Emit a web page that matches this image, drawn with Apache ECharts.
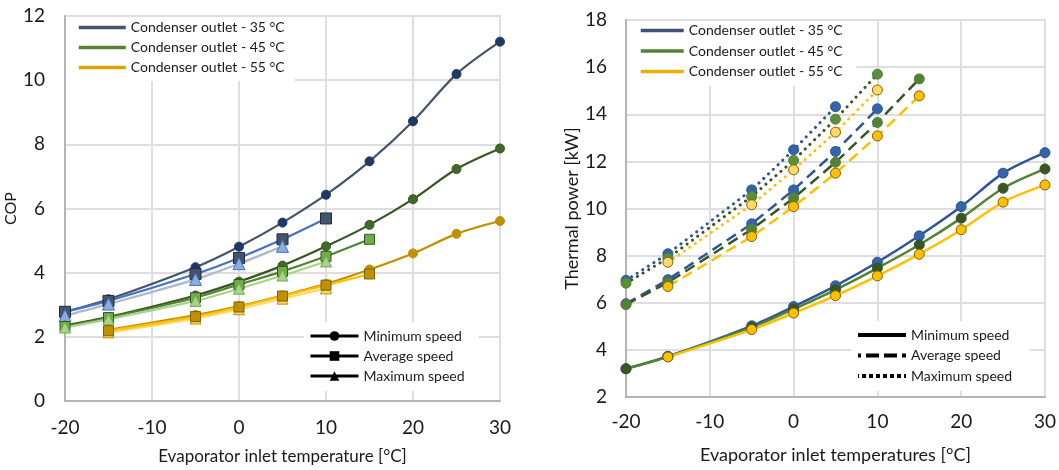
<!DOCTYPE html>
<html>
<head>
<meta charset="utf-8">
<script src="https://cdn.jsdelivr.net/npm/echarts@6/dist/echarts.min.js"></script>
<style>
html,body{margin:0;padding:0;background:#fff;}
#chart{width:1059px;height:470px;}
</style>
</head>
<body>
<div id="chart"></div>
<script>
// ---------- DATA ----------
const xTicks = [-20, -10, 0, 10, 20, 30];

// Left chart: COP
const cop35minX = [-20, -15, -5, 0, 5, 10, 15, 20, 25, 30];
const cop35min  = [2.78, 3.17, 4.17, 4.81, 5.56, 6.43, 7.47, 8.72, 10.19, 11.2];
const cop35avgX = [-20, -15, -5, 0, 5, 10];
const cop35avg  = [2.78, 3.12, 3.96, 4.46, 5.04, 5.69];
const cop35maxX = [-20, -15, -5, 0, 5];
const cop35max  = [2.66, 3.02, 3.79, 4.28, 4.82];
const cop45minX = [-20, -15, -5, 0, 5, 10, 15, 20, 25, 30];
const cop45min  = [2.35, 2.62, 3.29, 3.72, 4.22, 4.82, 5.49, 6.29, 7.23, 7.87];
const cop45avgX = [-20, -15, -5, 0, 5, 10, 15];
const cop45avg  = [2.32, 2.60, 3.22, 3.63, 4.04, 4.51, 5.04];
const cop45maxX = [-20, -15, -5, 0, 5, 10];
const cop45max  = [2.29, 2.55, 3.12, 3.50, 3.91, 4.35];
const cop55minX = [-15, -5, 0, 5, 10, 15, 20, 25, 30];
const cop55min  = [2.22, 2.68, 2.96, 3.29, 3.65, 4.10, 4.60, 5.21, 5.61];
const cop55avgX = [-15, -5, 0, 5, 10, 15];
const cop55avg  = [2.19, 2.63, 2.93, 3.27, 3.61, 3.96];
const cop55maxX = [-15, -5, 0, 5, 10];
const cop55max  = [2.14, 2.57, 2.86, 3.19, 3.51];

// Right chart: thermal power [kW]
const pw35minX = [-20, -15, -5, 0, 5, 10, 15, 20, 25, 30];
const pw35min  = [3.2, 3.72, 5.02, 5.84, 6.72, 7.72, 8.84, 10.08, 11.5, 12.37];
const pw45minX = [-20, -15, -5, 0, 5, 10, 15, 20, 25, 30];
const pw45min  = [3.2, 3.72, 4.95, 5.73, 6.55, 7.47, 8.46, 9.59, 10.86, 11.68];
const pw55minX = [-15, -5, 0, 5, 10, 15, 20, 25, 30];
const pw55min  = [3.7, 4.86, 5.56, 6.3, 7.14, 8.06, 9.1, 10.27, 11.0];
const pw35avgX = [-20, -15, -5, 0, 5, 10];
const pw35avg  = [5.96, 6.98, 9.35, 10.79, 12.42, 14.23];
const pw45avgX = [-20, -15, -5, 0, 5, 10, 15];
const pw45avg  = [5.92, 6.86, 9.12, 10.44, 11.96, 13.65, 15.5];
const pw55avgX = [-15, -5, 0, 5, 10, 15];
const pw55avg  = [6.69, 8.81, 10.08, 11.5, 13.08, 14.78];
const pw35maxX = [-20, -15, -5, 0, 5];
const pw35max  = [6.95, 8.08, 10.79, 12.49, 14.32];
const pw45maxX = [-20, -15, -5, 0, 5, 10];
const pw45max  = [6.83, 7.89, 10.51, 12.04, 13.79, 15.7];
const pw55maxX = [-15, -5, 0, 5, 10];
const pw55max  = [7.72, 10.16, 11.64, 13.24, 15.03];

const condLabels  = ['Condenser outlet - 35 °C', 'Condenser outlet - 45 °C', 'Condenser outlet - 55 °C'];
const speedLabels = ['Minimum speed', 'Average speed', 'Maximum speed'];
const leftYTitle  = 'COP';
const rightYTitle = 'Thermal power [kW]';
const leftXTitle  = 'Evaporator inlet temperature [°C]';
const rightXTitle = 'Evaporator inlet temperatures [°C]';

// ---------- BUILD ----------
const FONT = 'Lato';
const TXT = '#1a1a1a';
const zip = (xs, ys) => xs.map((x, i) => [x, ys[i]]);

function line(grid, xs, ys, lineColor, symbol, fill, border, opts) {
  opts = opts || {};
  return {
    type: 'line',
    xAxisIndex: grid, yAxisIndex: grid,
    data: zip(xs, ys),
    smooth: opts.smooth === undefined ? 0.3 : opts.smooth,
    symbol: symbol,
    symbolSize: opts.size || 9,
    lineStyle: { color: lineColor, width: opts.width || 2.2, type: opts.dash || 'solid', cap: opts.cap || 'butt' },
    itemStyle: { color: fill, borderColor: border, borderWidth: 1 },
    emphasis: { disabled: true },
    silent: true,
    animation: false
  };
}
// legend-only entries (no data); symbol hidden with a transparent fill when not wanted
function dummy(name, color, symbol, lstyle) {
  const hide = symbol === 'none';
  return {
    type: 'line', name: name, xAxisIndex: 0, yAxisIndex: 0, data: [],
    symbol: hide ? 'circle' : symbol, symbolSize: 9,
    lineStyle: Object.assign({ color: color }, lstyle),
    itemStyle: hide ? { color: 'rgba(0,0,0,0)', borderWidth: 0, borderColor: 'rgba(0,0,0,0)' } : { color: color }
  };
}

const series = [
  // left chart
  line(0, cop35minX, cop35min, '#44546A', 'circle', '#203864', '#203864', {size: 9}),
  line(0, cop35avgX, cop35avg, '#4472C4', 'rect', '#44546A', '#1F2A3C', {size: 11}),
  line(0, cop35maxX, cop35max, '#ADB9CA', 'triangle', '#8FAADC', '#4472C4', {size: 12}),
  line(0, cop45minX, cop45min, '#375623', 'circle', '#3F6A28', '#375623', {size: 9}),
  line(0, cop45avgX, cop45avg, '#548235', 'rect', '#70AD47', '#375623', {size: 10}),
  line(0, cop45maxX, cop45max, '#A9D18E', 'triangle', '#A9D18E', '#70AD47', {size: 11}),
  line(0, cop55minX, cop55min, '#BF9000', 'circle', '#BF9000', '#BF9000', {size: 9}),
  line(0, cop55maxX, cop55max, '#FFD966', 'triangle', '#FFD966', '#BF9000', {size: 11}),
  line(0, cop55avgX, cop55avg, '#FFC000', 'rect', '#BF9000', '#7F6000', {size: 10}),
  // right chart - min
  line(1, pw35minX, pw35min, '#2F5597', 'circle', '#3365A8', '#2F5597', {size: 10, width: 2.5}),
  line(1, pw45minX, pw45min, '#548235', 'circle', '#375623', '#375623', {size: 10, width: 2.5}),
  line(1, pw55minX, pw55min, '#FFC000', 'circle', '#FFC000', '#7F6000', {size: 10, width: 2.5}),
  // avg dashed
  line(1, pw35avgX, pw35avg, '#2F5597', 'circle', '#3365A8', '#2F5597', {size: 10, width: 2.5, dash: [11, 6], smooth: false}),
  line(1, pw45avgX, pw45avg, '#375623', 'circle', '#548235', '#548235', {size: 10, width: 2.5, dash: [11, 6], smooth: false}),
  line(1, pw55avgX, pw55avg, '#FFC000', 'circle', '#FFC000', '#7F6000', {size: 10, width: 2.5, dash: [11, 6], smooth: false}),
  // max dotted
  line(1, pw35maxX, pw35max, '#2F5597', 'circle', '#3365A8', '#2F5597', {size: 10, width: 3, dash: [0.1, 6.5], cap: 'round', smooth: false}),
  line(1, pw45maxX, pw45max, '#375623', 'circle', '#5B8F3A', '#548235', {size: 10, width: 3, dash: [0.1, 6.5], cap: 'round', smooth: false}),
  line(1, pw55maxX, pw55max, '#FFC000', 'circle', '#FFD966', '#7F6000', {size: 10, width: 3, dash: [0.1, 6.5], cap: 'round', smooth: false}),
  // legend dummies
  dummy(condLabels[0], '#44546A', 'none', {}),
  dummy(condLabels[1], '#548235', 'none', {}),
  dummy(condLabels[2], '#D9A400', 'none', {}),
  dummy(condLabels[0] + ' ', '#3E5278', 'none', {}),
  dummy(condLabels[1] + ' ', '#548235', 'none', {}),
  dummy(condLabels[2] + ' ', '#E8B000', 'none', {}),
  dummy(speedLabels[0], '#000', 'circle', {}),
  dummy(speedLabels[1], '#000', 'rect', {}),
  dummy(speedLabels[2], '#000', 'triangle', {}),
  dummy(speedLabels[0] + ' ', '#000', 'none', {}),
  dummy(speedLabels[1] + ' ', '#000', 'none', {type: [13, 5], dashOffset: 10}),
  dummy(speedLabels[2] + ' ', '#000', 'none', {type: [4, 3]})
];

function legend(names, left, top, padding, itemWidth, itemHeight, gap, fs, lh, lw) {
  return {
    data: names, orient: 'vertical', left: left, top: top, padding: padding,
    itemWidth: itemWidth, itemHeight: itemHeight, itemGap: gap,
    backgroundColor: '#fff', selectedMode: false,
    lineStyle: { width: lw },
    textStyle: { fontFamily: FONT, fontSize: fs, color: TXT, lineHeight: lh }
  };
}

function xAx(grid, fs, margin, name, nameGap, nameSize) {
  return {
    gridIndex: grid, type: 'value', min: -20, max: 30, interval: 10,
    axisLine: { show: true, onZero: false, lineStyle: { color: '#A6A6A6', width: 1.5 } },
    axisTick: { show: false },
    splitLine: { show: true, lineStyle: { color: '#DEDEDE', width: 2 } },
    axisLabel: { fontFamily: FONT, fontSize: fs, color: TXT, margin: margin,
                 formatter: v => xTicks.indexOf(v) >= 0 ? String(v) : '' },
    name: name, nameLocation: 'middle', nameGap: nameGap,
    nameTextStyle: { fontFamily: FONT, fontSize: nameSize, color: TXT }
  };
}
function yAx(grid, min, max, fs, margin, name, nameGap, nameSize) {
  return {
    gridIndex: grid, type: 'value', min: min, max: max, interval: 2,
    axisLine: { show: true, onZero: false, lineStyle: { color: '#A6A6A6', width: 1.5 } },
    axisTick: { show: false },
    splitLine: { show: true, lineStyle: { color: '#DEDEDE', width: 2 } },
    axisLabel: { fontFamily: FONT, fontSize: fs, color: TXT, margin: margin },
    name: name, nameLocation: 'middle', nameGap: nameGap,
    nameTextStyle: { fontFamily: FONT, fontSize: nameSize, color: TXT }
  };
}

const option = {
  animation: false,
  backgroundColor: '#fff',
  grid: [
    { left: 65, top: 16, width: 435, height: 388, show: true, borderColor: '#A6A6A6', borderWidth: 1.5, backgroundColor: 'transparent' },
    { left: 626, top: 20, width: 420, height: 377, show: true, borderColor: '#A6A6A6', borderWidth: 1.5, backgroundColor: 'transparent' }
  ],
  xAxis: [
    xAx(0, 19, 17, leftXTitle, 47, 17),
    xAx(1, 19, 15, rightXTitle, 49, 18)
  ],
  yAxis: [
    yAx(0, 0, 12, 19, 20, leftYTitle, 42, 16),
    yAx(1, 2, 18, 19, 19, rightYTitle, 44, 18)
  ],
  legend: [
    legend(condLabels, 66, 17, [3, 10, 6, 11], 47, 14, 5, 14, 15, 3.5),
    legend(condLabels.map(s => s + ' '), 627, 21, [2, 10, 7, 12], 43, 14, 5.5, 14, 15, 3.5),
    legend(speedLabels, 304, 322, [7, 14, 8, 5], 48, 12, 6, 14, 14, 3),
    legend(speedLabels.map(s => s + ' '), 851, 321, [7, 14, 8, 5], 48, 12, 6.5, 14, 14, 4)
  ],
  series: series
};

const chart = echarts.init(document.getElementById('chart'), null, { renderer: 'canvas' });
chart.setOption(option);
</script>
</body>
</html>
